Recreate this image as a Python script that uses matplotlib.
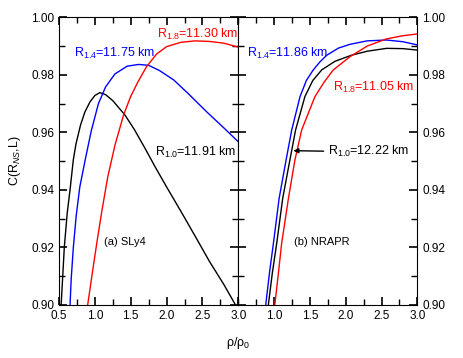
import numpy as np
import matplotlib
matplotlib.use("Agg")
import matplotlib.pyplot as plt
from matplotlib.ticker import MultipleLocator, FormatStrFormatter

plt.rcParams['font.family'] = ['Liberation Sans', 'DejaVu Sans']
plt.rcParams['mathtext.fontset'] = 'custom'
plt.rcParams['mathtext.rm'] = 'Liberation Sans'
plt.rcParams['mathtext.it'] = 'Liberation Sans:italic'

# (a) SLy4
sly4_r10_rho = [0.53, 0.574, 0.615, 0.654, 0.70, 0.737, 0.80, 0.86, 0.93, 1.00, 1.07, 1.15, 1.25,
                1.42, 1.55, 1.70, 1.84, 2.00, 2.20, 2.40, 2.60, 2.80, 2.96]
sly4_r10_c = [0.900, 0.920, 0.932, 0.940, 0.9505, 0.956, 0.9625, 0.967, 0.9705, 0.9728, 0.9738, 0.9731, 0.9710,
              0.966, 0.961, 0.9544, 0.948, 0.941, 0.9325, 0.9238, 0.9150, 0.907, 0.900]

sly4_r14_rho = [0.654, 0.67, 0.70, 0.74, 0.79, 0.87, 0.95, 1.05, 1.15, 1.28, 1.45, 1.61,
                1.75, 1.90, 2.10, 2.30, 2.56, 2.80, 3.00]
sly4_r14_c = [0.900, 0.909, 0.920, 0.931, 0.941, 0.951, 0.9605, 0.9700, 0.9758, 0.9803, 0.9830, 0.9836,
              0.9833, 0.9815, 0.9782, 0.9735, 0.9671, 0.9615, 0.9567]

sly4_r18_rho = [0.90, 0.97, 1.03, 1.10, 1.18, 1.28, 1.40, 1.50, 1.60, 1.72, 1.86, 2.00,
                2.20, 2.40, 2.60, 2.80, 3.00]
sly4_r18_c = [0.900, 0.912, 0.922, 0.933, 0.9445, 0.9555, 0.966, 0.9725, 0.9775, 0.9828, 0.9872, 0.9898,
              0.9913, 0.9918, 0.9916, 0.9910, 0.9896]

# (b) NRAPR
nrapr_r10_rho = [0.92, 0.975, 1.036, 1.12, 1.22, 1.30, 1.43, 1.54, 1.665, 1.85, 2.08, 2.30,
                 2.57, 2.80, 3.00]
nrapr_r10_c = [0.900, 0.911, 0.9213, 0.937, 0.9503, 0.9608, 0.9724, 0.9780, 0.9817, 0.9847, 0.9868, 0.9882,
               0.9892, 0.9891, 0.9886]

nrapr_r14_rho = [0.883, 0.94, 0.99, 1.07, 1.167, 1.246, 1.362, 1.45, 1.547, 1.64, 1.735, 1.90,
                 2.06, 2.30, 2.57, 2.80, 3.00]
nrapr_r14_c = [0.900, 0.912, 0.9213, 0.937, 0.9503, 0.9608, 0.9724, 0.9780, 0.9817, 0.9845, 0.9868, 0.9893,
               0.9906, 0.9918, 0.9921, 0.9915, 0.9904]

nrapr_r18_rho = [1.01, 1.06, 1.105, 1.20, 1.29, 1.385, 1.57, 1.70, 1.827, 2.06, 2.30, 2.57,
                 2.80, 3.00]
nrapr_r18_c = [0.900, 0.911, 0.9213, 0.937, 0.9503, 0.9608, 0.9724, 0.9775, 0.9817, 0.9863, 0.9900, 0.9925,
               0.9936, 0.9942]

W, H = 463, 358
fig = plt.figure(figsize=(W / 100, H / 100), dpi=100)
ax1 = fig.add_axes([59 / W, 1 - 304.8 / H, 179.3 / W, 287.5 / H])
ax2 = fig.add_axes([238.3 / W, 1 - 304.8 / H, 179.0 / W, 287.5 / H])

lw = 1.0
ax1.plot(sly4_r10_rho, sly4_r10_c, color='black', lw=lw)
ax1.plot(sly4_r14_rho, sly4_r14_c, color='blue', lw=lw)
ax1.plot(sly4_r18_rho, sly4_r18_c, color='red', lw=lw)

ax2.plot(nrapr_r10_rho, nrapr_r10_c, color='black', lw=lw)
ax2.plot(nrapr_r14_rho, nrapr_r14_c, color='blue', lw=lw)
ax2.plot(nrapr_r18_rho, nrapr_r18_c, color='red', lw=lw)

ax1.set_xticks([0.5, 1.0, 1.5, 2.0, 2.5, 3.0])
ax2.set_xticks([1.0, 1.5, 2.0, 2.5, 3.0])

for ax in (ax1, ax2):
    ax.set_xlim(0.5, 3.0)
    ax.set_ylim(0.90, 1.00)
    ax.xaxis.set_minor_locator(MultipleLocator(0.25))
    ax.yaxis.set_major_locator(MultipleLocator(0.02))
    ax.yaxis.set_minor_locator(MultipleLocator(0.01))
    ax.yaxis.set_major_formatter(FormatStrFormatter('%.2f'))
    ax.xaxis.set_major_formatter(FormatStrFormatter('%.1f'))
    ax.tick_params(which='both', direction='in', length=6, width=1.2,
                   top=True, bottom=True, left=True, right=True, labelsize=8.5)
    ax.tick_params(which='minor', length=4, width=1.0)

ax2.tick_params(axis='y', which='both', labelleft=False, labelright=True)

fs = 9
ax1.text(0.71, 0.9876, r'R$_{1.4}$=11.75 km', color='blue', fontsize=fs, va='center')
ax1.text(1.87, 0.9942, r'R$_{1.8}$=11.30 km', color='red', fontsize=fs, va='center')
ax1.text(1.84, 0.9531, r'R$_{1.0}$=11.91 km', color='black', fontsize=fs, va='center')
ax1.text(1.13, 0.9218, '(a) SLy4', color='black', fontsize=8, va='center')

ax2.text(0.617, 0.9876, r'R$_{1.4}$=11.86 km', color='blue', fontsize=fs, va='center')
ax2.text(1.827, 0.9757, r'R$_{1.8}$=11.05 km', color='red', fontsize=fs, va='center')
ax2.annotate(r'R$_{1.0}$=12.22 km', xy=(1.27, 0.9536), xytext=(1.75, 0.9532),
             color='black', fontsize=fs, va='center', ha='left',
             arrowprops=dict(arrowstyle='-|>', color='black', lw=1.0, mutation_scale=7,
                             shrinkA=1, shrinkB=0))
ax2.text(1.28, 0.9219, '(b) NRAPR', color='black', fontsize=8, va='center')

fig.text(15 / W, 1 - 161 / H, r'C(R$_{NS}$,L)', rotation=90, ha='center', va='center', fontsize=9)
fig.text(238 / W, 1 - 343 / H, 'ρ/ρ$_0$', ha='center', va='center', fontsize=9)

fig.savefig('out.png', dpi=100)
